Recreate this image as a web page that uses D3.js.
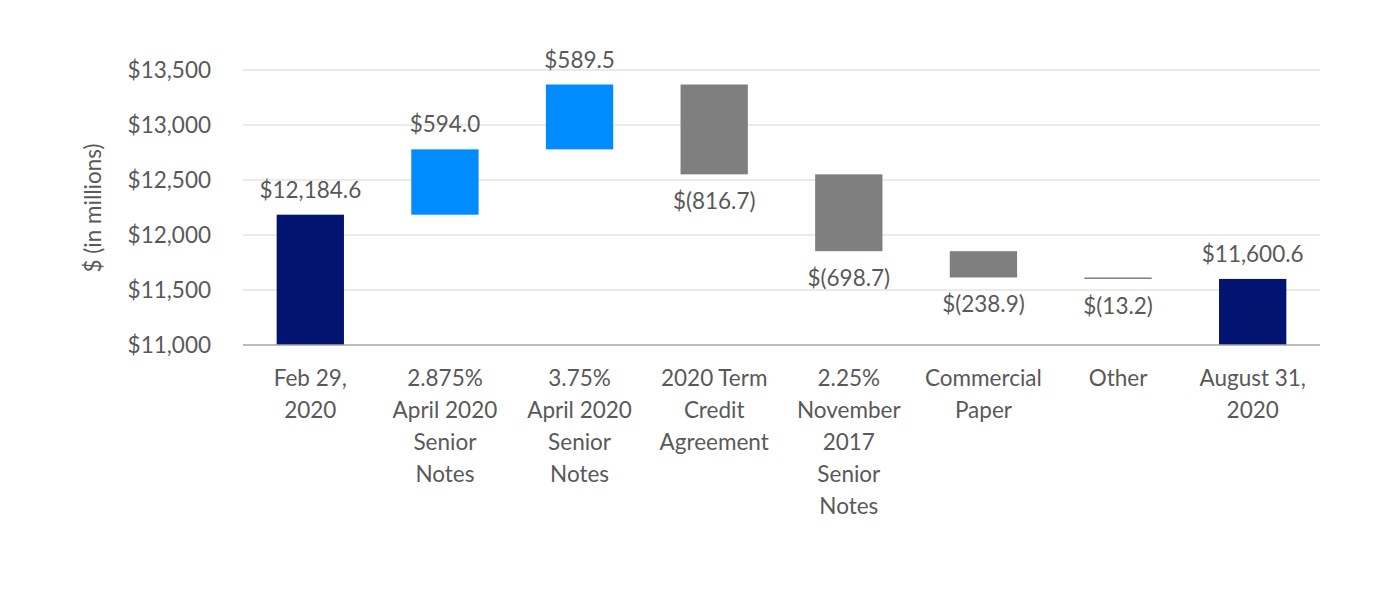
<!DOCTYPE html>
<html><head><meta charset="utf-8">
<script src="https://cdn.jsdelivr.net/npm/d3@7"></script>
<style>body{margin:0;background:#fff;} text{font-family:Lato,"Open Sans",sans-serif;}</style>
</head><body><svg id="c" width="1390" height="590"></svg>
<script>
const categories = [["Feb 29,","2020"],["2.875%","April 2020","Senior","Notes"],["3.75%","April 2020","Senior","Notes"],["2020 Term","Credit","Agreement"],["2.25%","November","2017","Senior","Notes"],["Commercial","Paper"],["Other"],["August 31,","2020"]];
const values = [12184.6, 594.0, 589.5, -816.7, -698.7, -238.9, -13.2, 11600.6];
const kinds = ["total","inc","inc","dec","dec","dec","dec","total"];
const valueLabels = ["$12,184.6","$594.0","$589.5","$(816.7)","$(698.7)","$(238.9)","$(13.2)","$11,600.6"];
const yTicks = [11000,11500,12000,12500,13000,13500];
const yTickLabels = ["$11,000","$11,500","$12,000","$12,500","$13,000","$13,500"];
const colors = {total:"#001470", inc:"#008cff", dec:"#7f7f7f"};
const FS = 22.5;

const svg = d3.select("#c");
const x = d3.scaleBand().domain(d3.range(categories.length)).range([243,1320]).paddingInner(0.5).paddingOuter(0.25);
const y = d3.scaleLinear().domain([11000,13500]).range([345,70]);

svg.append("g").selectAll("line").data(yTicks.slice(1)).join("line")
  .attr("x1",243).attr("x2",1320).attr("y1",d=>y(d)).attr("y2",d=>y(d))
  .attr("stroke","#e3e3e3").attr("stroke-width",1.5);

svg.append("g").selectAll("text").data(yTicks).join("text")
  .attr("x",211).attr("y",d=>y(d)).attr("dy","0.35em").attr("text-anchor","end")
  .attr("font-size",FS).attr("fill","#595959").text((d,i)=>yTickLabels[i]);

svg.append("text").attr("transform","translate(101,208) rotate(-90)").attr("text-anchor","middle")
  .attr("font-size",FS).attr("fill","#595959").text("$ (in millions)");

let run = 0;
const bars = values.map((v,i)=>{
  let lo, hi;
  if (kinds[i]==="total"){ lo=11000; hi=v; run=v; }
  else { const s=run; run=run+v; lo=Math.min(s,run); hi=Math.max(s,run); }
  return {i,lo,hi,kind:kinds[i]};
});

svg.append("g").selectAll("rect").data(bars).join("rect")
  .attr("x",d=>x(d.i)).attr("width",x.bandwidth())
  .attr("y",d=>y(d.hi)).attr("height",d=>Math.max(1.5,y(d.lo)-y(d.hi)))
  .attr("fill",d=>colors[d.kind]);

svg.append("line").attr("x1",243).attr("x2",1320).attr("y1",y(11000)).attr("y2",y(11000))
  .attr("stroke","#a6a6a6").attr("stroke-width",1.5);

svg.append("g").selectAll("text").data(bars).join("text")
  .attr("x",d=>x(d.i)+x.bandwidth()/2)
  .attr("y",d=> d.kind==="dec" ? y(d.lo)+35 : y(d.hi)-17)
  .attr("text-anchor","middle").attr("font-size",FS).attr("fill","#595959")
  .text(d=>valueLabels[d.i]);

const cg = svg.append("g").selectAll("text").data(categories).join("text")
  .attr("text-anchor","middle").attr("font-size",FS).attr("fill","#595959")
  .attr("transform",(d,i)=>`translate(${x(i)+x.bandwidth()/2},386)`);
cg.selectAll("tspan").data(d=>d).join("tspan").attr("x",0).attr("y",(d,j)=>j*32).text(d=>d);
</script></body></html>
